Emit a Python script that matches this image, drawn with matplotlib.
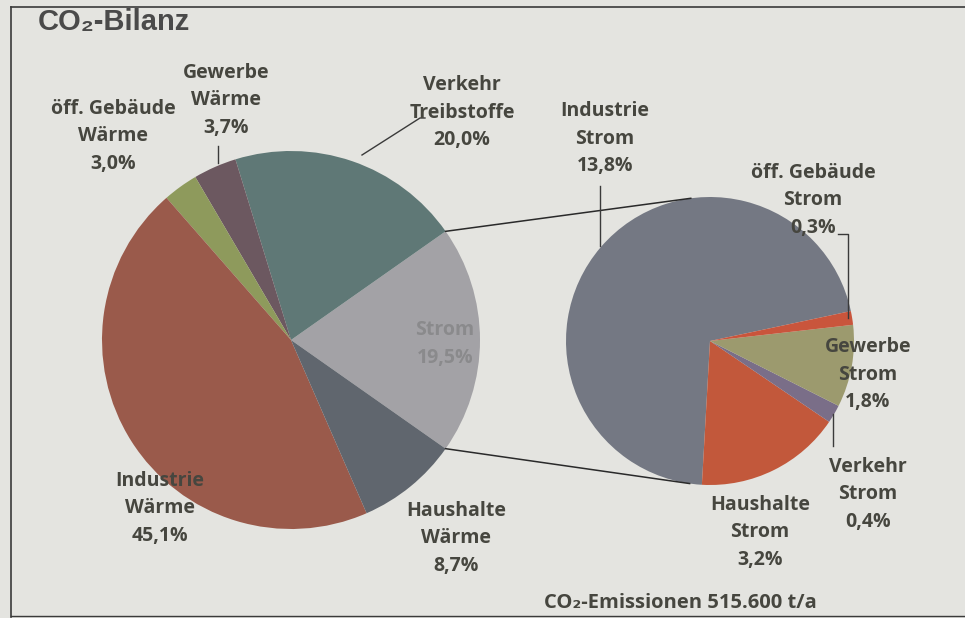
import numpy as np
import matplotlib.pyplot as plt

# CO2-Bilanz: main pie plus the breakdown of "Strom"
main_labels = ['Strom', 'Verkehr\nTreibstoffe', 'Gewerbe\nWärme', 'öff. Gebäude\nWärme',
               'Industrie\nWärme', 'Haushalte\nWärme']
main_values = [19.5, 20.0, 3.7, 3.0, 45.1, 8.7]
main_colors = ['#a3a2a6', '#5f7876', '#6c5860', '#8e9a5c', '#9a5a4b', '#60666e']

strom_labels = ['Industrie\nStrom', 'Haushalte\nStrom', 'Verkehr\nStrom', 'Gewerbe\nStrom',
                'öff. Gebäude\nStrom']
strom_values = [13.8, 3.2, 0.4, 1.8, 0.3]
strom_colors = ['#747883', '#c2583b', '#7a6e88', '#9c9a6e', '#c9553c']

total_text = 'CO₂-Emissionen 515.600 t/a'

W, H = 965, 618
BG = '#e4e4e0'
TXT = '#46463f'
FONT = ['Open Sans', 'DejaVu Sans']

fig = plt.figure(figsize=(W / 100, H / 100), dpi=100, facecolor=BG)
ax = fig.add_axes([0, 0, 1, 1])


def py(y):
    # pixel row (top down) -> data y (bottom up)
    return H - y


def pct(v):
    return f'{v:.1f}%'.replace('.', ',')


c1, r1 = (291, py(340)), 189
c2, r2 = (710, py(341)), 144

# main pie, "Strom" centred on the right side
start1 = -main_values[0] / 100 * 360 / 2
ax.pie(main_values, colors=main_colors, startangle=start1, counterclock=True,
       center=c1, radius=r1, frame=True, wedgeprops=dict(linewidth=0))

# secondary pie with the Strom shares
start2 = 12
ax.pie(strom_values, colors=strom_colors, startangle=start2, counterclock=True,
       center=c2, radius=r2, frame=True, wedgeprops=dict(linewidth=0))
ax.set_xlim(0, W)
ax.set_ylim(0, H)
ax.set_aspect('equal')
ax.axis('off')


def tangent_point(p, c, r, upper):
    # tangent point on circle (c, r) seen from external point p
    p, c = np.array(p, float), np.array(c, float)
    d = p - c
    dist = np.hypot(*d)
    base = np.arctan2(d[1], d[0])
    off = np.arccos(r / dist)
    ang = base - off if upper else base + off
    return c + r * np.array([np.cos(ang), np.sin(ang)])


# connector lines from the Strom wedge edges to the secondary pie
half = np.deg2rad(main_values[0] / 100 * 360 / 2)
for sgn in (1, -1):
    p = (c1[0] + r1 * np.cos(sgn * half), c1[1] + r1 * np.sin(sgn * half))
    q = tangent_point(p, c2, r2, upper=(sgn == 1))
    ax.plot([p[0], q[0]], [p[1], q[1]], color='#2a2a2a', lw=1.1)

# label positions (pixel coords of text centre)
lab_kw = dict(ha='center', va='center', fontsize=14, fontweight='bold',
              family=FONT, color=TXT, linespacing=1.5)
main_pos = [(445, 344), (462, 113), (226, 100), (113, 136), (160, 508), (456, 538)]
strom_pos = [(605, 139), (760, 532), (868, 494), (868, 375), (813, 200)]

for lab, val, (x, y) in zip(main_labels, main_values, main_pos):
    col = '#8a8a8c' if lab == 'Strom' else TXT
    ax.text(x, py(y), f'{lab}\n{pct(val)}', **{**lab_kw, 'color': col})
for lab, val, (x, y) in zip(strom_labels, strom_values, strom_pos):
    ax.text(x, py(y), f'{lab}\n{pct(val)}', **lab_kw)

# leader lines
lead_kw = dict(color='#3a3a3a', lw=1.0)
ax.plot([218, 218], [py(146), py(163)], **lead_kw)
ax.plot([425, 420, 362], [py(118), py(118), py(155)], **lead_kw)
ax.plot([600, 600], [py(186), py(246)], **lead_kw)
ax.plot([838, 848, 848], [py(234), py(234), py(318)], **lead_kw)
ax.plot([833, 833], [py(414), py(446)], **lead_kw)

# title and total
ax.text(38, py(22), 'CO₂-Bilanz', ha='left', va='center', fontsize=21,
        fontweight='bold', family=['Liberation Sans', 'DejaVu Sans'], color='#4a4a4a')
ax.text(680, py(603), total_text, ha='center', va='center', fontsize=14.5,
        fontweight='bold', family=FONT, color=TXT)

# frame
ax.plot([11, W], [py(7), py(7)], color='#3a3a3a', lw=1.2)
ax.plot([11, 11], [py(7), py(617)], color='#3a3a3a', lw=1.2)
ax.plot([11, W], [py(616), py(616)], color='#3a3a3a', lw=1.0)

fig.savefig('out.png', dpi=100, facecolor=BG)
